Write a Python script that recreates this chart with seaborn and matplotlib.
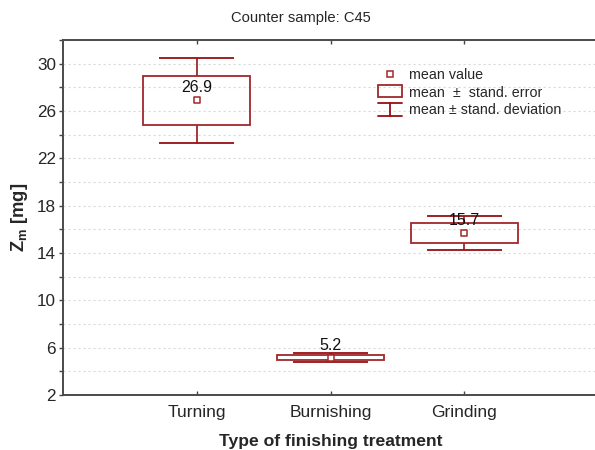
import numpy as np
import pandas as pd
import matplotlib
matplotlib.use("Agg")
import matplotlib.pyplot as plt
import seaborn as sns
from matplotlib.legend_handler import HandlerBase
from matplotlib.patches import Rectangle
from matplotlib.lines import Line2D

# ---- data ----
categories = ["Turning", "Burnishing", "Grinding"]
means = [26.9, 5.15, 15.7]
mean_labels = ["26.9", "5.2", "15.7"]
std_err = [2.05, 0.23, 0.83]
std_dev = [3.6, 0.39, 1.45]
yticks = [2, 6, 10, 14, 18, 22, 26, 30]

RED = "#a0282a"
CAP = "#960f12"

sns.set_theme(style="white")
plt.rcParams["font.family"] = ["Liberation Sans", "DejaVu Sans"]

fig = plt.figure(figsize=(5.95, 4.5), dpi=100)
ax = fig.add_axes([63 / 595, 1 - 395 / 450, (598 - 63) / 595, (395 - 40) / 450])

df = pd.DataFrame({"x": np.arange(len(categories)), "mean": means,
                   "se": std_err, "sd": std_dev})
pos = df["x"].to_numpy(dtype=float)
m = df["mean"].to_numpy()
se = df["se"].to_numpy()
sd = df["sd"].to_numpy()

# boxes: mean +/- standard error
ax.bar(pos, 2 * se, bottom=m - se, width=0.8, facecolor="none",
       edgecolor=RED, linewidth=1.3, zorder=3)
# whiskers: mean +/- standard deviation
ax.vlines(pos, m + se, m + sd, color=RED, linewidth=1.3, zorder=3)
ax.vlines(pos, m - sd, m - se, color=RED, linewidth=1.3, zorder=3)
ax.hlines(m + sd, pos - 0.28, pos + 0.28, color=CAP, linewidth=1.3, zorder=3)
ax.hlines(m - sd, pos - 0.28, pos + 0.28, color=CAP, linewidth=1.3, zorder=3)
# mean markers
sns.scatterplot(data=df, x="x", y="mean", marker="s", s=22, facecolor="white",
                edgecolor=RED, linewidth=1.1, ax=ax, zorder=4, legend=False)
for xi, yi, lab in zip(pos, m, mean_labels):
    ax.annotate(lab, (xi, yi), xytext=(0, 9), textcoords="offset points",
                ha="center", va="center", fontsize=11.5, color="#111111", zorder=5)

ax.set_xlim(-1, 3)
ax.set_ylim(2, 32)
ax.set_xticks(pos)
ax.set_xticklabels(categories, fontsize=12.5)
ax.set_yticks(yticks)
ax.set_yticklabels([str(t) for t in yticks], fontsize=12.3)
ax.set_yticks(np.arange(4, 33, 4), minor=True)
ax.yaxis.grid(True, which="both", linestyle=(0, (2, 2.5)), color="#dadada", linewidth=0.8)
ax.set_axisbelow(True)
ax.tick_params(axis="y", which="both", direction="out", length=3, width=1,
               color="#444444", left=True, pad=2)
ax.tick_params(axis="x", which="both", direction="in", length=3, width=1,
               color="#444444", bottom=True, top=True, pad=7)
for s in ["left", "bottom", "top"]:
    ax.spines[s].set_color("#4a4a4a")
    ax.spines[s].set_linewidth(1.4)
ax.spines["right"].set_visible(False)

ax.set_xlabel("Type of finishing treatment", fontsize=12.6, fontweight="bold", labelpad=10)
ax.set_ylabel(r"Z$_\mathregular{m}$ [mg]", fontsize=13.2, fontweight="bold", labelpad=5)
fig.text(0.506, 1 - 18 / 450, "Counter sample: C45", ha="center", va="center", fontsize=10.6)


class MeanHandler(HandlerBase):
    def create_artists(self, legend, orig, xd, yd, w, h, fs, trans):
        ln = Line2D([w / 2 - xd], [h / 2 - yd], marker="s", ms=4.5, mfc="white",
                    mec=RED, mew=1.1, linestyle="none", transform=trans)
        return [ln]


class BoxHandler(HandlerBase):
    def create_artists(self, legend, orig, xd, yd, w, h, fs, trans):
        r = Rectangle((-xd, -yd), w, h * 1.2, facecolor="none",
                      edgecolor=RED, linewidth=1.3, transform=trans)
        return [r]


class SDHandler(HandlerBase):
    def create_artists(self, legend, orig, xd, yd, w, h, fs, trans):
        top = -yd + h * 1.05
        bot = -yd - h * 0.25
        a = Line2D([-xd, -xd + w], [top, top], color=CAP, lw=1.3, transform=trans)
        b = Line2D([-xd, -xd + w], [bot, bot], color=CAP, lw=1.3, transform=trans)
        c = Line2D([-xd + w / 2] * 2, [bot, top], color=CAP, lw=1.3, transform=trans)
        return [a, b, c]


class H1: pass
class H2: pass
class H3: pass


h1, h2, h3 = H1(), H2(), H3()
ax.legend([h1, h2, h3],
          ["mean value", "mean  \u00b1  stand. error", "mean \u00b1 stand. deviation"],
          handler_map={H1: MeanHandler(), H2: BoxHandler(), H3: SDHandler()},
          loc="upper left", bbox_to_anchor=(0.588, 0.92), frameon=False,
          fontsize=10.3, handlelength=1.7, handletextpad=0.5, labelspacing=0.22,
          borderpad=0, borderaxespad=0)

fig.savefig("out.png", dpi=100)
